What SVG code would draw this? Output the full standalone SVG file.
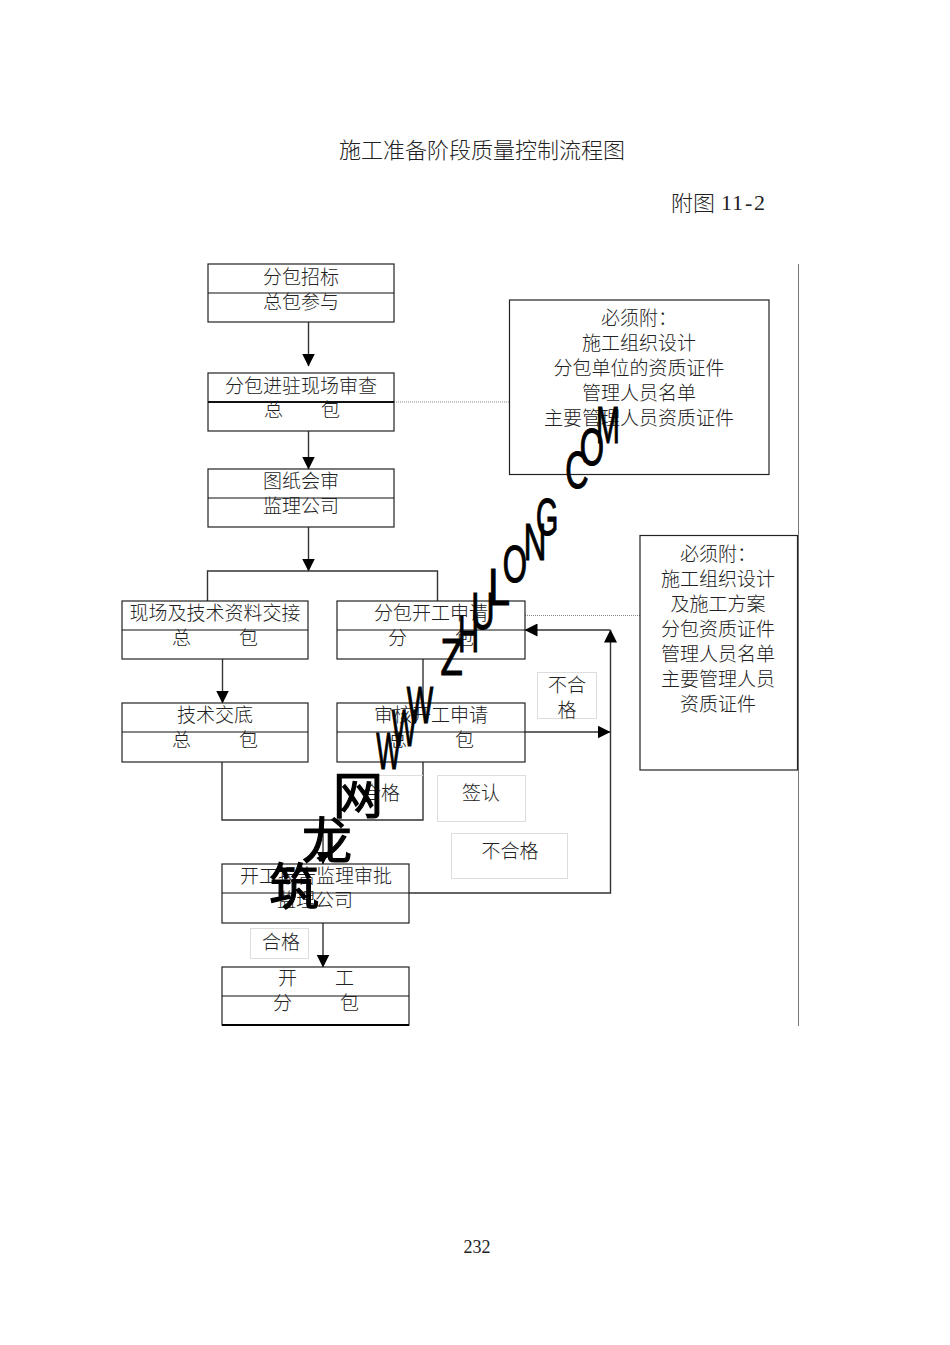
<svg xmlns="http://www.w3.org/2000/svg" width="950" height="1345" viewBox="0 0 950 1345">
<style>
text{font-family:"Noto Sans CJK SC","Liberation Serif",serif;font-size:19px;fill:#222;font-weight:300;text-anchor:middle}
.s{text-anchor:start}
.box{fill:none;stroke:#222;stroke-width:1.2}
.div{stroke:#111;stroke-width:1.2}
.lab{fill:#fff;stroke:#ddd;stroke-width:1}
.con{fill:none;stroke:#333;stroke-width:1.4}
.dot{fill:none;stroke:#888;stroke-width:1;stroke-dasharray:1 1}
.wm{font-family:"Liberation Sans",sans-serif;font-weight:400;font-size:52px;fill:#000;stroke:#000;stroke-width:1.2}
.wc{font-family:"Noto Sans CJK SC",sans-serif;font-weight:400;font-size:50px;fill:#000;stroke:#000;stroke-width:1.2}
</style>
<defs>
<marker id="a" markerUnits="userSpaceOnUse" markerWidth="13" markerHeight="13" viewBox="0 0 13 13" refX="12.5" refY="6.5" orient="auto"><path d="M0 0L13 6.5L0 13Z" fill="#000"/></marker>
</defs>
<g id="title">
<text x="482" y="158" style="font-size:22px">施工准备阶段质量控制流程图</text>
<text class="s" x="671" y="211" style="font-size:22px">附图</text>
<text class="s" x="721 732 745 754" y="210" style="font-size:22px;font-family:'Liberation Serif',serif">11-2</text>
<text x="477" y="1253" style="font-size:18px;font-family:'Liberation Serif',serif">232</text>
</g>
<g id="connectors">
<path class="con" d="M308.500 322V366" marker-end="url(#a)"/>
<path class="con" d="M308.500 431V469" marker-end="url(#a)"/>
<path class="con" d="M308.500 527V571" marker-end="url(#a)"/>
<path class="con" d="M207.500 601V571H437.500V601"/>
<path class="con" d="M222.500 659V703" marker-end="url(#a)"/>
<path class="con" d="M423 659V703"/>
<path class="con" d="M525 732H610" marker-end="url(#a)"/>
<path class="con" d="M409 893H610.500V630" marker-end="url(#a)"/>
<path class="con" d="M610.500 630H525" marker-end="url(#a)"/>
<path class="con" d="M222 762V820H423V762"/>
<path class="con" d="M323 820V864" marker-end="url(#a)"/>
<path class="con" d="M323 923V967" marker-end="url(#a)"/>
<path class="dot" d="M394 402H509"/>
<path class="dot" d="M525 615.500H640"/>
<path d="M798.500 264V1026" fill="none" stroke="#777" stroke-width="1"/>
</g>
<g id="n1"><rect class="box" x="208" y="264" width="186" height="58"/><path class="div" d="M208 293H394"/><text x="301" y="284">分包招标</text><text x="301" y="309">总包参与</text></g>
<g id="n2"><rect class="box" x="208" y="373" width="186" height="58"/><path class="div" d="M208 402H394" style="stroke-width:2"/><text x="301" y="393">分包进驻现场审查</text><text class="s" x="264 321" y="417">总包</text></g>
<g id="n3"><rect class="box" x="208" y="469" width="186" height="58"/><path class="div" d="M208 498H394"/><text x="301" y="488">图纸会审</text><text x="301" y="513">监理公司</text></g>
<g id="n4"><rect class="box" x="122" y="601" width="186" height="58"/><path class="div" d="M122 630H308"/><text x="215" y="620">现场及技术资料交接</text><text class="s" x="172 239" y="645">总包</text></g>
<g id="n5"><rect class="box" x="337" y="601" width="188" height="58"/><path class="div" d="M337 630H525"/><text x="431" y="620">分包开工申请</text><text class="s" x="388 455" y="645">分包</text></g>
<g id="n6"><rect class="box" x="122" y="703" width="186" height="59"/><path class="div" d="M122 732H308"/><text x="215" y="722">技术交底</text><text class="s" x="172 239" y="747">总包</text></g>
<g id="n7"><rect class="box" x="337" y="703" width="188" height="59"/><path class="div" d="M337 732H525"/><text x="431" y="722">审核开工申请</text><text class="s" x="388 455" y="747">总包</text></g>
<g id="n8"><rect class="box" x="222" y="864" width="187" height="59"/><path class="div" d="M222 893H409"/><text x="316" y="883">开工报告监理审批</text><text x="315" y="907">监理公司</text></g>
<g id="n9"><rect class="box" x="222" y="967" width="187" height="58"/><path class="div" d="M222 996H409"/><path d="M222 1025H409" stroke="#000" stroke-width="2"/><text class="s" x="278 335" y="985">开工</text><text class="s" x="273 340" y="1010">分包</text></g>
<g id="noteA"><rect class="box" x="509.500" y="300" width="259.500" height="174.500"/><text x="639" y="325">必须附：</text><text x="639" y="350">施工组织设计</text><text x="639" y="375">分包单位的资质证件</text><text x="639" y="400">管理人员名单</text><text x="639" y="425">主要管理人员资质证件</text></g>
<g id="noteB"><rect class="box" x="640" y="535.500" width="157.500" height="234.500"/><text x="718" y="561">必须附：</text><text x="718" y="586">施工组织设计</text><text x="718" y="611">及施工方案</text><text x="718" y="636">分包资质证件</text><text x="718" y="661">管理人员名单</text><text x="718" y="686">主要管理人员</text><text x="718" y="711">资质证件</text></g>
<g id="lab1"><rect class="lab" x="537.500" y="672.500" width="59" height="46"/><text x="567" y="692">不合</text><text x="567" y="717">格</text></g>
<g id="lab2"><path d="M340 775.500H423" fill="none" stroke="#ddd"/><text x="381" y="800">合格</text></g>
<g id="lab3"><rect class="lab" x="437.500" y="775.500" width="88" height="46"/><text x="481" y="800">签认</text></g>
<g id="lab4"><rect class="lab" x="451.500" y="833.500" width="116" height="45"/><text x="510" y="858">不合格</text></g>
<g id="lab5"><rect class="lab" x="250.500" y="928.500" width="58" height="30"/><text x="281" y="949">合格</text></g>
<g id="watermark">
<text class="wc" x="294" y="905">筑</text>
<text class="wc" x="327" y="859">龙</text>
<text class="wc" x="358" y="814">网</text>
<text class="wm" transform="translate(388.500 769) scale(.5 1)">W</text>
<text class="wm" transform="translate(404 746) scale(.5 1)">W</text>
<text class="wm" transform="translate(420 723) scale(.54 1)">W</text>
<text class="wm" transform="translate(451.500 675) scale(.7 1)">Z</text>
<text class="wm" transform="translate(468.500 652) scale(.56 1)">H</text>
<text class="wm" transform="translate(483 629) scale(.62 1)">U</text>
<text class="wm" transform="translate(499 605) scale(.75 1)">L</text>
<text class="wm" transform="translate(515 582) scale(.6 1)">O</text>
<text class="wm" transform="translate(535 560) scale(.6 1)">N</text>
<text class="wm" transform="translate(547 535) scale(.55 1)">G</text>
<text class="wm" transform="translate(577 488) scale(.62 1)">C</text>
<text class="wm" transform="translate(592 465) scale(.6 1)">O</text>
<text class="wm" transform="translate(608 443) scale(.55 1)">M</text>
</g>
</svg>
